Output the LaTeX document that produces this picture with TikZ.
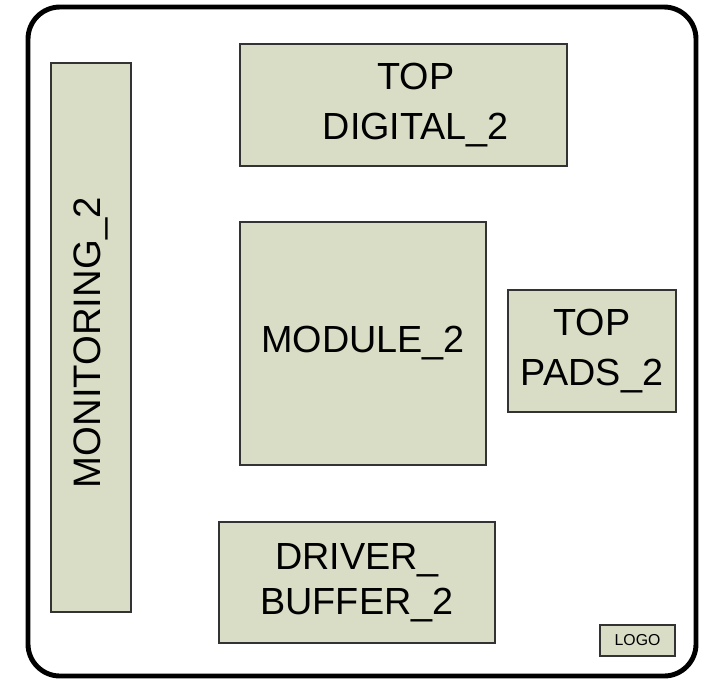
\documentclass[tikz,border=0pt]{standalone}
\usepackage{fontspec}
\setmainfont{Liberation Sans}
\usepackage{tikz}

\definecolor{blockfill}{RGB}{217,221,198}

\tikzset{
  block/.style={draw=black!80,line width=1.1pt,fill=blockfill,inner sep=0pt,outer sep=0pt,
    align=center,font=\fontsize{21.5}{28}\selectfont},
}

\begin{document}
\begin{tikzpicture}[x=0.02cm,y=-0.02cm]
  \useasboundingbox (0,0) rectangle (709,681);
  % die outline
  \draw[line width=2.8pt,rounded corners=0.64cm] (28,7) rectangle (696,676);
  % blocks
  \node (monitor) [block,minimum width=1.6cm,minimum height=10.98cm,font=\fontsize{21.8}{28}\selectfont]
    at (91,337.5) {\rotatebox{90}{MONITORING\_2\kern6pt}};
  \node (digital) [block,minimum width=6.54cm,minimum height=2.44cm] at (403.5,105)
    {\kern14pt TOP\\\kern14pt DIGITAL\_2};
  \node (module) [block,minimum width=4.92cm,minimum height=4.86cm] at (363,343.5)
    {MODULE\_2};
  \node (pads) [block,minimum width=3.36cm,minimum height=2.44cm] at (592,351)
    {TOP\\PADS\_2};
  \node (driver) [block,minimum width=5.52cm,minimum height=2.42cm,font=\fontsize{21.5}{25.6}\selectfont]
    at (357,582.5) {DRIVER\_\\BUFFER\_2};
  \node (logo) [block,minimum width=1.5cm,minimum height=0.62cm,font=\fontsize{9}{10}\selectfont]
    at (637.5,640.5) {LOGO};
\end{tikzpicture}
\end{document}
